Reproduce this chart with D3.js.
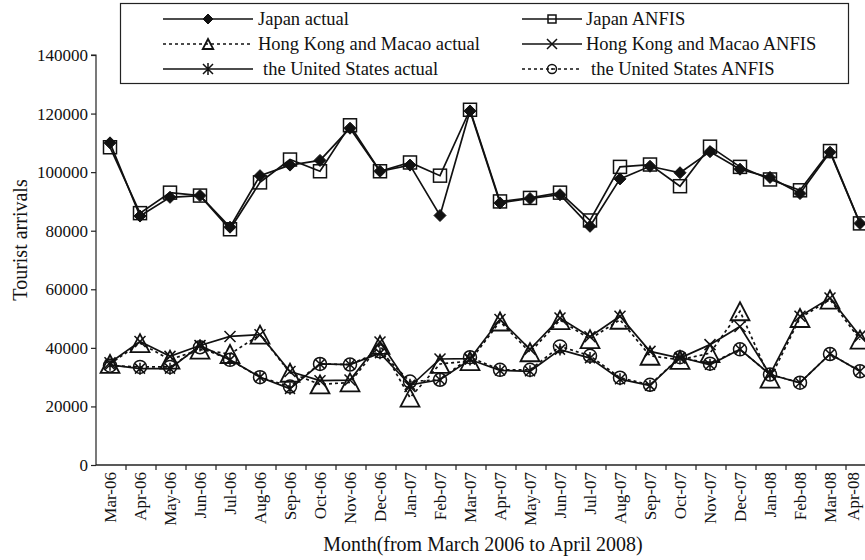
<!DOCTYPE html>
<html><head><meta charset="utf-8">
<script src="https://cdn.jsdelivr.net/npm/d3@7/dist/d3.min.js"></script>
<style>
body{margin:0;background:#fff;}
svg{display:block;}
text{font-family:"Liberation Serif","Times New Roman",serif;fill:#111;}
</style></head>
<body><svg id="c" width="865" height="560"></svg>
<script>
const months = ["Mar-06","Apr-06","May-06","Jun-06","Jul-06","Aug-06","Sep-06","Oct-06","Nov-06","Dec-06","Jan-07","Feb-07","Mar-07","Apr-07","May-07","Jun-07","Jul-07","Aug-07","Sep-07","Oct-07","Nov-07","Dec-07","Jan-08","Feb-08","Mar-08","Apr-08"];
const japanActual = [110000,85000,91400,92000,81200,98800,102400,104000,115000,100300,102400,85200,120900,89500,91000,92300,81500,97700,102000,99800,107000,101000,98200,92700,106800,82500];
const japanANFIS  = [108500,86000,93000,92000,80500,96500,104300,100300,116000,100300,103300,98800,121300,90000,91200,93000,83500,101800,102600,95200,108700,101800,97500,93800,107200,82500];
const hkActual    = [34500,41600,36000,39400,37900,44500,31500,27500,28200,41000,23000,34500,35500,49000,38500,49500,43000,49600,37300,35900,38200,52500,29500,50200,56500,42800];
const hkANFIS     = [34900,42200,37100,40800,43900,44500,31900,28800,29000,42000,26800,36200,36300,49700,39500,50200,43800,50800,38800,36500,41100,47300,30900,50800,57000,44000];
const usActual    = [34200,32900,32900,40800,35900,30000,26000,34500,34300,38200,27400,29100,36000,32300,32000,39400,36500,29300,27100,36800,34200,39500,30900,28100,37900,32000];
const usANFIS     = [33900,33500,33500,40200,35900,30000,26800,34500,34300,38800,28500,29100,36800,32500,32500,40500,37300,29800,27400,36800,34600,39500,30900,28100,37900,32000];
const yTicks = [0,20000,40000,60000,80000,100000,120000,140000];
const seriesNames = ["Japan actual","Japan ANFIS","Hong Kong and Macao actual","Hong Kong and Macao ANFIS","the United States actual","the United States ANFIS"];

const svg = d3.select("#c");
const plotLeft = 96, plotBottom = 465, plotTop = 55, step = 30;
const x = d3.scaleBand().domain(months).range([plotLeft, plotLeft + step*months.length]);
const y = d3.scaleLinear().domain([0,140000]).range([plotBottom, plotTop]);
const cx = m => x(m) + x.bandwidth()/2 - 1;

// y axis
const ya = svg.append("g").attr("transform",`translate(${plotLeft},0)`)
  .call(d3.axisLeft(y).tickValues(yTicks).tickSize(5).tickPadding(3).tickFormat(d=>String(d)));
ya.selectAll("text").style("font-size","17px").style("font-family","Liberation Serif, serif").attr("fill","#111");
ya.selectAll("line,path").attr("stroke","#222").attr("stroke-width",1.2);
ya.select(".domain").attr("d",`M-5,${y(140000)}H0V${plotBottom}`);

// x axis
svg.append("line").attr("x1",plotLeft).attr("x2",865).attr("y1",plotBottom).attr("y2",plotBottom).attr("stroke","#222").attr("stroke-width",1.4);
svg.append("g").selectAll("line").data(months).join("line")
  .attr("x1",d=>x(d)+x.bandwidth()).attr("x2",d=>x(d)+x.bandwidth())
  .attr("y1",plotBottom).attr("y2",plotBottom+5).attr("stroke","#222").attr("stroke-width",1.2);
svg.append("g").selectAll("text").data(months).join("text")
  .attr("transform",d=>`translate(${Math.min(cx(d),853)},${plotBottom+7}) rotate(-90)`)
  .attr("text-anchor","end").attr("dy","0.35em").style("font-size","17px").text(d=>d);

// axis titles
svg.append("text").attr("x",483).attr("y",551).attr("text-anchor","middle").style("font-size","20px")
  .text("Month(from March 2006 to April 2008)");
svg.append("text").attr("transform","translate(27,240) rotate(-90)").attr("text-anchor","middle").style("font-size","20px")
  .text("Tourist arrivals");

// marker shapes
function marker(g, type, s){
  const sw = 1.5;
  if(type==="diamond"){ g.append("path").attr("d",`M0,${-s}L${s},0L0,${s}L${-s},0Z`).attr("fill","#111").attr("stroke","#111"); }
  else if(type==="square"){ g.append("rect").attr("x",-s).attr("y",-s).attr("width",2*s).attr("height",2*s).attr("fill","none").attr("stroke","#111").attr("stroke-width",sw); }
  else if(type==="triangle"){ g.append("path").attr("d",`M0,${-s}L${s*1.05},${s}L${-s*1.05},${s}Z`).attr("fill","none").attr("stroke","#111").attr("stroke-width",sw+0.3); }
  else if(type==="x"){ g.append("path").attr("d",`M${-s},${-s}L${s},${s}M${-s},${s}L${s},${-s}`).attr("stroke","#111").attr("stroke-width",sw); }
  else if(type==="star"){ g.append("path").attr("d",`M${-s},${-s}L${s},${s}M${-s},${s}L${s},${-s}M0,${-s*1.2}V${s*1.2}`).attr("stroke","#111").attr("stroke-width",sw); }
  else if(type==="circle"){ g.append("circle").attr("r",s).attr("fill","none").attr("stroke","#111").attr("stroke-width",sw);
    if(s<6) g.append("circle").attr("r",1).attr("fill","#111"); }
}

const series = [
  {name:seriesNames[0], values:japanActual, m:"diamond", size:6, dash:null},
  {name:seriesNames[1], values:japanANFIS, m:"square", size:6.5, dash:null},
  {name:seriesNames[2], values:hkActual, m:"triangle", size:9, dash:"3,3"},
  {name:seriesNames[3], values:hkANFIS, m:"x", size:5.5, dash:null},
  {name:seriesNames[4], values:usActual, m:"star", size:5, dash:null},
  {name:seriesNames[5], values:usANFIS, m:"circle", size:6.5, dash:"3,3"}
];
const line = d3.line().x((d,i)=>cx(months[i])).y(d=>y(d));
series.forEach(s=>{
  const g = svg.append("g");
  g.append("path").attr("d",line(s.values)).attr("fill","none").attr("stroke","#111")
    .attr("stroke-width",1.7).attr("stroke-dasharray",s.dash);
  s.values.forEach((v,i)=>{
    const mg = g.append("g").attr("transform",`translate(${cx(months[i])},${y(v)})`);
    marker(mg, s.m, s.size);
  });
});

// legend
const lg = svg.append("g");
lg.append("rect").attr("x",120.5).attr("y",3.5).attr("width",728).attr("height",80).attr("fill","#fff").attr("stroke","#222").attr("stroke-width",1.2);
const legendPos = [
  {x1:163,x2:253,tx:258,row:0},{x1:522,x2:582,tx:586,row:0},
  {x1:163,x2:253,tx:258,row:1},{x1:522,x2:582,tx:586,row:1},
  {x1:163,x2:253,tx:263,row:2},{x1:522,x2:582,tx:591,row:2}
];
const legendSize = [5,4,5,5,5,4.5];
series.forEach((s,i)=>{
  const p = legendPos[i], ry = 19 + p.row*25;
  lg.append("line").attr("x1",p.x1).attr("x2",p.x2).attr("y1",ry).attr("y2",ry).attr("stroke","#111")
    .attr("stroke-width",1.6).attr("stroke-dasharray",s.dash);
  const mg = lg.append("g").attr("transform",`translate(${(p.x1+p.x2)/2},${ry})`);
  marker(mg, s.m, legendSize[i]);
  lg.append("text").attr("x",p.tx).attr("y",ry).attr("dy","0.35em").style("font-size","18.5px").text(s.name);
});
</script></body></html>
